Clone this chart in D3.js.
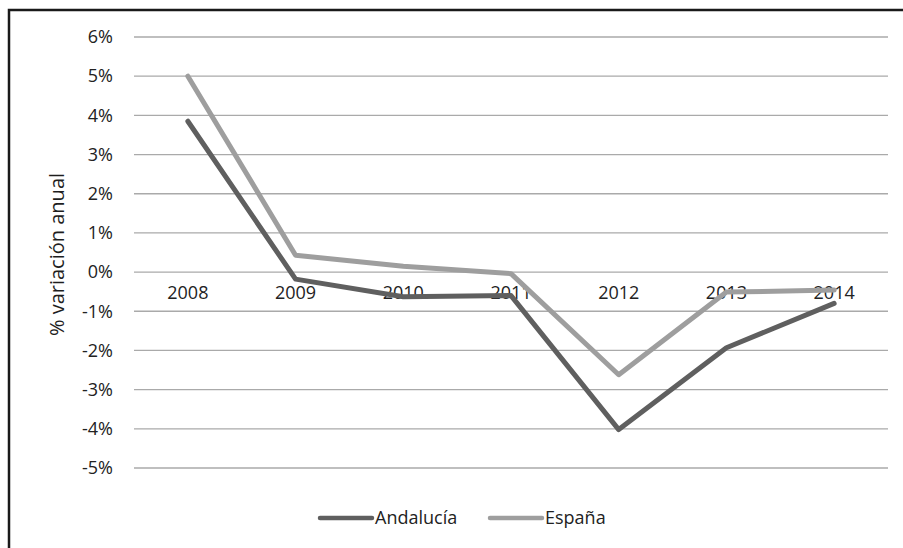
<!DOCTYPE html>
<html>
<head>
<meta charset="utf-8">
<script src="https://cdn.jsdelivr.net/npm/d3@7"></script>
<style>
  html, body { margin: 0; padding: 0; background: #fff; overflow: hidden; }
  svg { display: block; font-family: "Open Sans", sans-serif; }
</style>
</head>
<body>
<svg id="chart" width="903" height="548"></svg>
<script>
// Annual variation (%) by year
const years = ["2008", "2009", "2010", "2011", "2012", "2013", "2014"];
const andalucia = [3.85, -0.18, -0.63, -0.6, -4.02, -1.93, -0.8];
const espana = [5.0, 0.43, 0.15, -0.04, -2.62, -0.51, -0.46];
const yTicks = [6, 5, 4, 3, 2, 1, 0, -1, -2, -3, -4, -5];
const seriesNames = ["Andalucía", "España"];
const seriesColors = ["#5f5f5f", "#9e9e9e"];

const FONT = "'Open Sans', sans-serif";
const svg = d3.select("#chart");

// Frame (only top and left edges fall inside the view)
svg.append("rect")
  .attr("x", 9).attr("y", 10)
  .attr("width", 920).attr("height", 560)
  .attr("fill", "none").attr("stroke", "#1a1a1a").attr("stroke-width", 2.5);

const plot = { left: 134, right: 888, top: 37, bottom: 468 };

const x = d3.scaleBand().domain(years).range([plot.left, plot.right]);
const y = d3.scaleLinear().domain([-5, 6]).range([plot.bottom, plot.top]);

// Horizontal gridlines
svg.append("g")
  .selectAll("line")
  .data(yTicks)
  .join("line")
  .attr("x1", plot.left).attr("x2", plot.right)
  .attr("y1", d => y(d)).attr("y2", d => y(d))
  .attr("stroke", "#aaaaaa").attr("stroke-width", 1.3);

// Y axis labels
const yAxis = d3.axisLeft(y)
  .tickValues(yTicks)
  .tickFormat(d => d + "%")
  .tickSize(0)
  .tickPadding(21);
const gy = svg.append("g").attr("transform", `translate(${plot.left},0)`).call(yAxis);
gy.select(".domain").remove();
gy.selectAll("text")
  .attr("font-size", 18).attr("fill", "#222")
  .attr("font-family", FONT);

// Category labels sit just below the zero line
const xAxis = d3.axisBottom(x).tickSize(0).tickPadding(14);
const gx = svg.append("g").attr("transform", `translate(0,${y(0)})`).call(xAxis);
gx.select(".domain").remove();
gx.selectAll("text")
  .attr("font-size", 18).attr("fill", "#222")
  .attr("font-family", FONT);

// Y axis title
svg.append("text")
  .attr("transform", `translate(64,${(plot.top + plot.bottom) / 2 + 2}) rotate(-90)`)
  .attr("text-anchor", "middle")
  .attr("font-size", 20)
  .attr("fill", "#1e1e1e")
  .text("% variación anual");

// Lines
const line = d3.line()
  .x((d, i) => x(years[i]) + x.bandwidth() / 2)
  .y(d => y(d));

[andalucia, espana].forEach((vals, k) => {
  svg.append("path")
    .datum(vals)
    .attr("d", line)
    .attr("fill", "none")
    .attr("stroke", seriesColors[k])
    .attr("stroke-width", 5)
    .attr("stroke-linejoin", "round")
    .attr("stroke-linecap", "round");
});

// Legend
const legendItems = [
  { name: seriesNames[0], color: seriesColors[0], x: 320 },
  { name: seriesNames[1], color: seriesColors[1], x: 490 }
];
const lg = svg.append("g");
legendItems.forEach(it => {
  lg.append("line")
    .attr("x1", it.x).attr("x2", it.x + 52)
    .attr("y1", 518).attr("y2", 518)
    .attr("stroke", it.color).attr("stroke-width", 4.5)
    .attr("stroke-linecap", "round");
  lg.append("text")
    .attr("x", it.x + 55).attr("y", 518)
    .attr("dy", "0.35em")
    .attr("font-size", 18)
    .attr("fill", "#222")
    .text(it.name);
});
</script>
</body>
</html>
